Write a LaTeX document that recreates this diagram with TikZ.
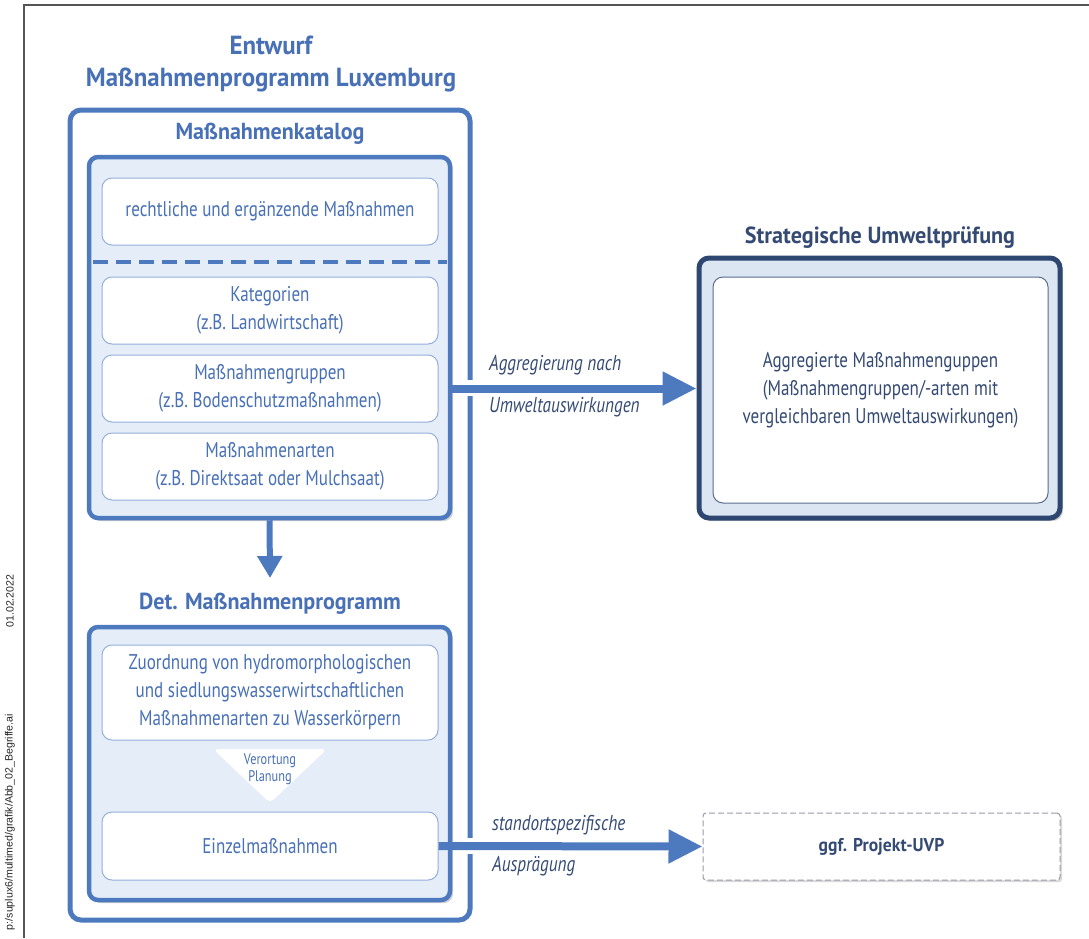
\documentclass[tikz,border=0pt]{standalone}
\usepackage{fontspec}
\setmainfont{PT Sans}[FakeStretch=0.80]
\newfontfamily\headfont{PT Sans}[FakeStretch=0.95]
\newfontfamily\marginfont{Liberation Sans}
\usetikzlibrary{arrows.meta,shadows,calc}
\definecolor{mblue}{HTML}{4D79BF}
\definecolor{tblue}{HTML}{4870B6}
\definecolor{lightfill}{HTML}{E5EDF9}
\definecolor{innerborder}{HTML}{94AEDB}
\definecolor{navy}{HTML}{2E4770}
\definecolor{navytext}{HTML}{344A73}
\definecolor{supfill}{HTML}{DCE6F2}
\definecolor{uvpgray}{HTML}{9A9AAA}
\definecolor{framegray}{HTML}{555555}
\tikzset{
  titletext/.style={font=\headfont\bfseries\fontsize{26.2}{30}\selectfont, text=tblue, inner sep=0pt},
  headtext/.style={font=\headfont\bfseries\fontsize{23.2}{28}\selectfont, text=tblue, inner sep=0pt},
  outerbox/.style={draw=mblue, line width=5pt, rounded corners=11pt, fill=white, inner sep=0pt},
  groupbox/.style={draw=mblue, line width=4.5pt, rounded corners=9pt, fill=lightfill, inner sep=0pt,
     drop shadow={opacity=0.35, shadow xshift=3pt, shadow yshift=-3pt}},
  itembox/.style={draw=innerborder, line width=1pt, rounded corners=10pt, fill=white, inner sep=0pt,
     minimum width=336pt, text=tblue, align=center, font=\fontsize{21.3}{28}\selectfont},
  bigarrow/.style={draw=mblue, line width=8pt, -{Triangle[length=34pt,width=32pt]}},
  downarrow/.style={draw=mblue, line width=6pt, -{Triangle[length=22pt,width=24pt]}},
  arrowlabel/.style={font=\itshape\fontsize{21.5}{24}\selectfont, text=navytext, inner sep=0pt, anchor=west},
  supbox/.style={draw=navy, line width=5pt, rounded corners=10pt, fill=supfill, inner sep=0pt,
     drop shadow={opacity=0.35, shadow xshift=3pt, shadow yshift=-3pt}},
  supinner/.style={draw=navy!80, line width=1pt, rounded corners=10pt, fill=white, inner sep=0pt,
     text=navytext, align=center, font=\fontsize{21.3}{28}\selectfont},
  uvpbox/.style={draw=uvpgray, line width=1pt, dashed, dash pattern=on 6pt off 3pt, rounded corners=3pt, fill=white, inner sep=0pt,
     drop shadow={opacity=0.3, shadow xshift=2pt, shadow yshift=-2pt}},
  margintext/.style={font=\marginfont\fontsize{10.6}{13}\selectfont, text=black!85, rotate=90, inner sep=0pt},
  tritext/.style={font=\fontsize{15.4}{17}\selectfont, text=tblue, align=center, inner sep=0pt},
}
\begin{document}
\begin{tikzpicture}[x=1pt,y=-1pt]
\useasboundingbox (0,0) rectangle (1089,938);
% frame
\draw[framegray, line width=1.5pt] (24,938) -- (24,5) -- (1089,5);
\node[margintext] (path) at (10,822) {p:/suplux6/multimed/grafik/Abb\_02\_Begriffe.ai};
\node[margintext] (date) at (10,601) {01.02.2022};
% titles
\node[titletext] (title1) at (271,45) {Entwurf};
\node[titletext] (title2) at (271,80) {Maßnahmenprogramm Luxemburg};
% outer box
\node[outerbox, minimum width=400pt, minimum height=810pt] (outer) at (270,515) {};
\node[headtext] (kathead) at (270,134) {Maßnahmenkatalog};
% catalog box
\node[groupbox, minimum width=361pt, minimum height=361pt] (cat) at (269.5,337.5) {};
\draw[mblue, line width=4.5pt, dash pattern=on 15pt off 8pt] (93,262) -- (447,262);
\node[itembox, minimum height=67pt] (b1) at (270,211.5) {rechtliche und ergänzende Maßnahmen};
\node[itembox, minimum height=67pt] (b2) at (270,310.5) {Kategorien\\(z.B. Landwirtschaft)};
\node[itembox, minimum height=67pt] (b3) at (270,388.5) {Maßnahmengruppen\\(z.B. Bodenschutzmaßnahmen)};
\node[itembox, minimum height=67pt] (b4) at (270,466.5) {Maßnahmenarten\\(z.B. Direktsaat oder Mulchsaat)};
% down arrow
\coordinate (dtip) at (270,578);
\draw[downarrow] (cat.south) -- (dtip);
\node[headtext] (dethead) at (270,604) {Det. Maßnahmenprogramm};
% det box
\node[groupbox, minimum width=361pt, minimum height=273pt] (det) at (269.5,763.5) {};
\node[itembox, minimum height=95pt] (b5) at (270,692.5) {Zuordnung von hydromorphologischen\\und siedlungswasserwirtschaftlichen\\Maßnahmenarten zu Wasserkörpern};
\fill[white, rounded corners=5pt] (213,749) -- (327,749) -- (270,803) -- cycle;
\node[tritext] (tri) at (270,769) {Verortung\\Planung};
\node[itembox, minimum height=68pt] (b6) at (270,846) {Einzelmaßnahmen};
% right side
\node[font=\headfont\bfseries\fontsize{23.3}{28}\selectfont, text=navytext, inner sep=0pt] (suphead) at (880,238) {Strategische Umweltprüfung};
\node[supbox, minimum width=361pt, minimum height=260pt] (sup) at (879.5,388) {};
\node[supinner, minimum width=335pt, minimum height=226pt] (supin) at (880.5,390) {Aggregierte Maßnahmenguppen\\(Maßnahmengruppen/-arten mit\\vergleichbaren Umweltauswirkungen)};
\node[uvpbox, minimum width=357pt, minimum height=67pt, font=\headfont\bfseries\fontsize{18.5}{24}\selectfont, text=navytext] (uvp) at (881.5,846.5) {ggf. Projekt-UVP};
% arrows
\draw[white, line width=16pt] (462,388) -- (478,388);
\draw[white, line width=16pt] (462,846) -- (478,846);
\draw[bigarrow] (cat.east |- b3.east) -- (sup.west |- b3.east);
\draw[bigarrow] (b6.east) -- (uvp.west);
\node[arrowlabel] (l1) at (489,365) {Aggregierung nach};
\node[arrowlabel] (l2) at (489,407) {Umweltauswirkungen};
\node[arrowlabel] (l3) at (492,825) {standortspezifische};
\node[arrowlabel] (l4) at (492,866) {Ausprägung};
\end{tikzpicture}
\end{document}
